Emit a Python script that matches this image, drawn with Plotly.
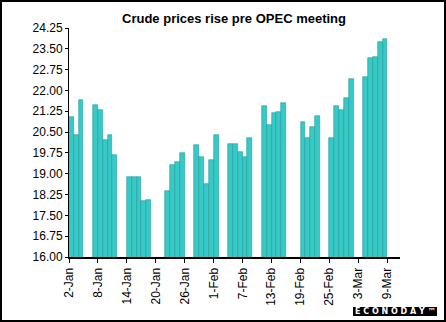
import pandas as pd
import plotly.graph_objects as go

# ---- data ----
dates = [
    "2001-01-03", "2001-01-04", "2001-01-05",
    "2001-01-08", "2001-01-09", "2001-01-10", "2001-01-11", "2001-01-12",
    "2001-01-15", "2001-01-16", "2001-01-17", "2001-01-18", "2001-01-19",
    "2001-01-23", "2001-01-24", "2001-01-25", "2001-01-26",
    "2001-01-29", "2001-01-30", "2001-01-31", "2001-02-01", "2001-02-02",
    "2001-02-05", "2001-02-06", "2001-02-07", "2001-02-08", "2001-02-09",
    "2001-02-12", "2001-02-13", "2001-02-14", "2001-02-15", "2001-02-16",
    "2001-02-20", "2001-02-21", "2001-02-22", "2001-02-23",
    "2001-02-26", "2001-02-27", "2001-02-28", "2001-03-01", "2001-03-02",
    "2001-03-05", "2001-03-06", "2001-03-07", "2001-03-08", "2001-03-09",
]
prices = [
    21.06, 20.38, 21.64,
    21.49, 21.31, 20.20, 20.38, 19.69,
    18.90, 18.90, 18.90, 18.00, 18.05,
    18.36, 19.32, 19.44, 19.73,
    20.05, 19.59, 18.64, 19.48, 20.38,
    20.08, 20.08, 19.78, 19.62, 20.30,
    21.43, 20.74, 21.19, 21.24, 21.55,
    20.88, 20.28, 20.69, 21.09,
    20.28, 21.43, 21.29, 21.74, 22.42,
    22.50, 23.18, 23.21, 23.76, 23.86,
]
x_tick_dates = ["2001-01-02", "2001-01-08", "2001-01-14", "2001-01-20", "2001-01-26",
                "2001-02-01", "2001-02-07", "2001-02-13", "2001-02-19", "2001-02-25",
                "2001-03-03", "2001-03-09"]
x_tick_labels = ["2-Jan", "8-Jan", "14-Jan", "20-Jan", "26-Jan", "1-Feb", "7-Feb",
                 "13-Feb", "19-Feb", "25-Feb", "3-Mar", "9-Mar"]
y_ticks = [16.00, 16.75, 17.50, 18.25, 19.00, 19.75, 20.50, 21.25, 22.00, 22.75, 23.50, 24.25]
title = "Crude prices rise pre OPEC meeting"
logo = "E C O N O D A Y ™"

# ---- figure ----
W, H = 446, 322
ML, MR, MT, MB = 69, 46, 28, 65
PW, PH = W - ML - MR, H - MT - MB

# bars occupy the day ending at their date tick
bar_x = pd.to_datetime(dates) - pd.Timedelta(hours=12)
day_ms = 86400000

fig = go.Figure(go.Bar(
    x=bar_x, y=prices, width=[day_ms] * len(prices),
    marker=dict(color="#36C9C6", line=dict(color="#239C9A", width=0.6)),
    hoverinfo="skip",
))

font = "Liberation Sans, Arial, sans-serif"
fig.update_layout(
    width=W, height=H,
    margin=dict(l=ML, r=MR, t=MT, b=MB),
    paper_bgcolor="white", plot_bgcolor="white",
    showlegend=False,
    bargap=0,
    title=dict(text="<b>" + title + "</b>", x=(234 - ML) / PW, xref="paper",
               xanchor="center", y=1 - 18 / H, yanchor="middle",
               font=dict(family=font, size=13, color="black")),
    xaxis=dict(
        type="date",
        range=["2001-01-02", "2001-03-11 15:00"],
        tickvals=x_tick_dates, ticktext=x_tick_labels,
        tickangle=-90, ticks="outside", ticklen=4, tickcolor="black",
        showline=True, linecolor="black", linewidth=2,
        showgrid=False, zeroline=False,
        tickfont=dict(family=font, size=12, color="black"),
    ),
    yaxis=dict(
        range=[16, 24.25],
        tickvals=y_ticks, tickformat=".2f",
        ticks="outside", ticklen=3, tickcolor="black",
        showline=True, linecolor="black", linewidth=1,
        showgrid=False, zeroline=False,
        tickfont=dict(family=font, size=12, color="black"),
    ),
    shapes=[
        # outer frame
        dict(type="rect", xref="paper", yref="paper",
             x0=(-ML + 1) / PW, x1=1 + (MR - 1) / PW,
             y0=(-MB + 1) / PH, y1=1 + (MT - 1) / PH,
             line=dict(color="black", width=2), fillcolor="rgba(0,0,0,0)"),
        # logo box
        dict(type="rect", xref="paper", yref="paper",
             x0=(353 - ML) / PW, x1=(437 - ML) / PW,
             y0=(MT + PH - 316) / PH, y1=(MT + PH - 307) / PH,
             line=dict(width=0), fillcolor="black"),
    ],
    annotations=[
        dict(text="<b>" + logo + "</b>", xref="paper", yref="paper",
             x=(395.5 - ML) / PW, y=(MT + PH - 311.5) / PH,
             xanchor="center", yanchor="middle", showarrow=False,
             font=dict(family="DejaVu Sans, sans-serif", size=8, color="white")),
    ],
)

fig.write_html("out.html")
